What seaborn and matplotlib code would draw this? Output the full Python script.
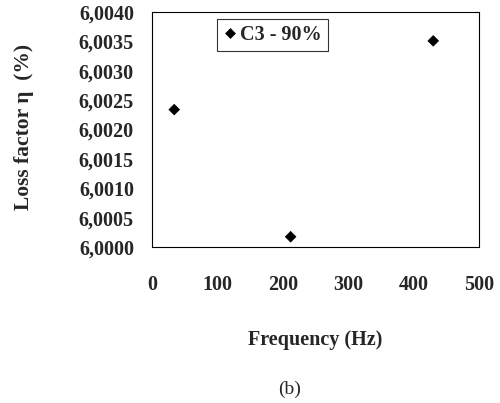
import matplotlib
matplotlib.use("Agg")
import matplotlib.pyplot as plt
import seaborn as sns
import pandas as pd
from matplotlib.ticker import FuncFormatter, MultipleLocator

freq = [34, 212, 430]
loss = [6.00234, 6.000175, 6.00351]
series = "C3 - 90%"

sns.set_theme(style="white")
plt.rcParams['font.family'] = ['Liberation Serif', 'DejaVu Serif']

df = pd.DataFrame({"Frequency": freq, "Loss": loss, "Series": [series] * len(freq)})

fig = plt.figure(figsize=(5, 4.03), dpi=100)
ax = fig.add_axes([0.304, 0.387, 0.654, 0.583])
sns.scatterplot(data=df, x="Frequency", y="Loss", hue="Series", palette=["black"],
                marker="D", s=30, edgecolor="black", ax=ax)

ax.set_xlim(0, 500)
ax.set_ylim(6.0, 6.004)
ax.xaxis.set_major_locator(MultipleLocator(100))
ax.yaxis.set_major_locator(MultipleLocator(0.0005))
ax.yaxis.set_major_formatter(FuncFormatter(lambda v, p: f"{v:.4f}".replace(".", ",")))
ax.xaxis.set_major_formatter(FuncFormatter(lambda v, p: f"{v:.0f}"))

for s in ax.spines.values():
    s.set_visible(True)
    s.set_color("black")
    s.set_linewidth(0.8)
ax.tick_params(axis="both", which="major", direction="out", length=7, width=0.8,
               color="#666666", labelsize=14.5)
ax.tick_params(axis="x", pad=13)
ax.tick_params(axis="y", pad=6)
for lbl in ax.get_xticklabels() + ax.get_yticklabels():
    lbl.set_fontweight("bold")

ax.set_xlabel("")
ax.set_ylabel("")
fig.text(315 / 500, 1 - 340 / 403, "Frequency (Hz)", ha="center", va="center",
         fontsize=14.5, fontweight="bold")
fig.text(24 / 500, 1 - 127 / 403, "Loss factor η  (%)", ha="center", va="center",
         rotation=90, fontsize=15.5, fontweight="bold")
fig.text(290 / 500, 1 - 389 / 403, "(b)", ha="center", va="center", fontsize=14)

leg = ax.legend(loc="upper left", bbox_to_anchor=(0.199, 0.97), borderaxespad=0,
                frameon=True, fancybox=False, edgecolor="black", handletextpad=0.15,
                borderpad=0.3, handlelength=0.7, markerscale=0.9,
                prop={"size": 14.5, "weight": "bold"})
leg.get_frame().set_linewidth(0.8)

fig.savefig("out.png", dpi=100)
